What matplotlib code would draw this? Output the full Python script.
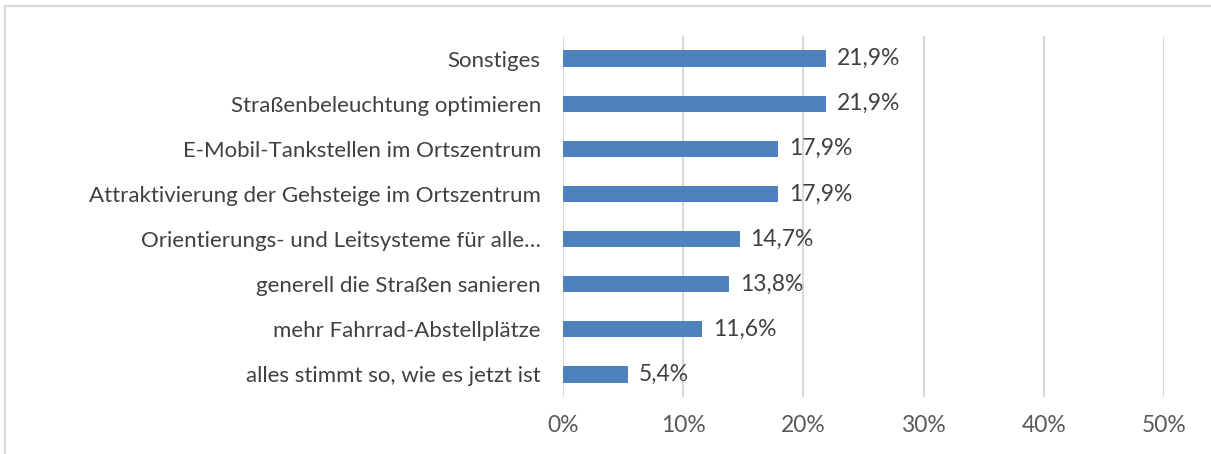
import matplotlib.pyplot as plt
from matplotlib.patches import Rectangle

# data, top to bottom as in the chart
categories = ["Sonstiges",
              "Straßenbeleuchtung optimieren",
              "E-Mobil-Tankstellen im Ortszentrum",
              "Attraktivierung der Gehsteige im Ortszentrum",
              "Orientierungs- und Leitsysteme für alle…",
              "generell die Straßen sanieren",
              "mehr Fahrrad-Abstellplätze",
              "alles stimmt so, wie es jetzt ist"]
values = [21.9, 21.9, 17.9, 17.9, 14.7, 13.8, 11.6, 5.4]
xticks = [0, 10, 20, 30, 40, 50]

plt.rcParams['font.family'] = ['Lato', 'DejaVu Sans']
fs = 16

fig = plt.figure(figsize=(12.11, 4.54), dpi=100)
ax = fig.add_axes([563/1211, 1-397/454, 601/1211, 361/454])

pos = list(range(len(categories)))[::-1]
ax.barh(pos, values, height=0.36, color='#4F81BD', zorder=3)
for p, v in zip(pos, values):
    ax.text(v + 0.9, p, f"{v:.1f}%".replace('.', ','), va='center', ha='left',
            fontsize=16.5, color='#404040')

ax.set_xlim(0, 50)
ax.set_ylim(-0.5, len(categories) - 0.5)
ax.set_xticks(xticks)
ax.set_xticklabels([f"{t}%" for t in xticks], fontsize=16.5, color='#595959')
ax.set_yticks(pos)
ax.set_yticklabels(categories, fontsize=fs, color='#404040')
ax.tick_params(axis='both', length=0)
ax.tick_params(axis='y', pad=16)
ax.tick_params(axis='x', pad=13)
ax.grid(axis='x', color='#D9D9D9', linewidth=1.5, zorder=0)
for s in ax.spines.values():
    s.set_visible(False)

# chart border (clipped at right and bottom in the source)
fig.patches.append(Rectangle((5/1211, -0.1), 1.2, 1 - 6/454 + 0.1,
                             transform=fig.transFigure, fill=False,
                             edgecolor='#D9D9D9', linewidth=1.5))

fig.savefig('out.png', dpi=100)
